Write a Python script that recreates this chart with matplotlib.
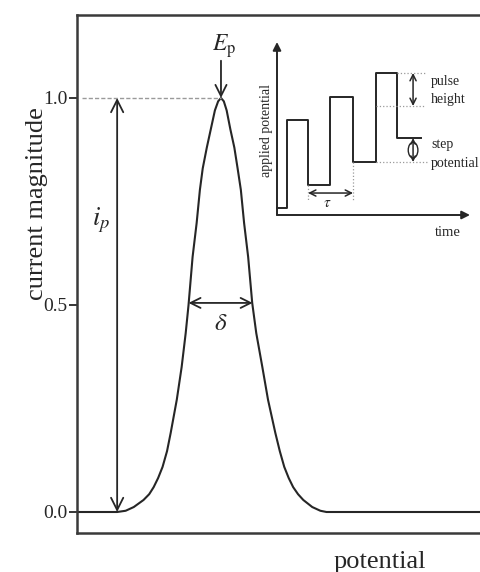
import matplotlib
matplotlib.use('Agg')
import matplotlib.pyplot as plt
from matplotlib.patches import Ellipse

plt.rcParams['font.family'] = ['Liberation Serif', 'DejaVu Serif']
plt.rcParams['mathtext.fontset'] = 'stix'

# main peak (potential in arbitrary units)
potential = [0.0, 9.9, 12.0, 14.0, 16.4, 17.8, 18.9, 20.0, 21.1, 22.2, 23.1,
             24.6, 25.8, 26.8, 27.5, 28.5, 29.5, 30.3, 31.0, 32.0, 33.0, 34.0,
             34.8, 35.5, 36.2, 36.9, 37.8, 38.8, 39.6, 40.4, 41.2, 42.2, 43.2,
             44.2, 45.7, 47.1, 48.9, 50.0, 51.1, 52.2, 53.3, 54.5, 55.8, 58.0,
             60.0, 61.5, 100.0]
current = [0.0, 0.0, 0.003, 0.012, 0.029, 0.043, 0.060, 0.082, 0.109, 0.147, 0.191,
           0.271, 0.350, 0.432, 0.500, 0.616, 0.698, 0.778, 0.830, 0.880, 0.925, 0.970,
           0.992, 1.0, 0.992, 0.970, 0.925, 0.880, 0.830, 0.778, 0.698, 0.616, 0.505,
           0.432, 0.350, 0.271, 0.191, 0.147, 0.109, 0.082, 0.060, 0.043, 0.029, 0.012,
           0.003, 0.0, 0.0]
y_ticks = [0.0, 0.5, 1.0]
y_ticklabels = ['0.0', '0.5', '1.0']

# inset waveform (time / applied potential, arbitrary units)
wave_t = [0, 5.2, 16.1, 27.5, 39.4, 51.3, 62.2, 74.6]
wave_v = [4.0, 54.9, 17.3, 68.2, 30.6, 82.1, 44.5, 44.5]

ink = '#262626'
dot = '#9a9a9a'

fig = plt.figure(figsize=(4.8, 5.72), dpi=100)
ax = fig.add_axes([0.1604, 0.0682, 0.845, 0.9056])

ax.plot(potential, current, color=ink, lw=1.5, solid_joinstyle='round')
ax.set_xlim(0, 100)
ax.set_ylim(-0.0507, 1.2005)
ax.set_xticks([])
ax.set_yticks(y_ticks)
ax.set_yticklabels(y_ticklabels)
ax.tick_params(axis='y', direction='out', length=6, width=1.3, color=ink,
               labelsize=14, pad=1, labelcolor=ink)
for s in ['left', 'top', 'bottom']:
    ax.spines[s].set_linewidth(1.8)
    ax.spines[s].set_color('#3a3a3a')
ax.spines['right'].set_visible(False)

# peak height line and arrows
ax.plot([1.2, 35.5], [1.0, 1.0], color=dot, lw=1.0, ls=(0, (3, 1.5)))
arr = dict(arrowstyle='<->', color=ink, lw=1.3, mutation_scale=22,
           shrinkA=0, shrinkB=0)
ax.annotate('', xy=(9.9, 1.0), xytext=(9.9, 0.0), arrowprops=arr)
ax.text(6.0, 0.705, '$i_p$', fontsize=19, ha='center', va='center', color=ink)

ax.annotate('', xy=(35.5, 1.0), xytext=(35.5, 1.09),
            arrowprops=dict(arrowstyle='->', color=ink, lw=1.3, mutation_scale=20,
                            shrinkA=0, shrinkB=0))
ax.text(36.3, 1.125, r'$E_\mathrm{p}$', fontsize=17, ha='center', va='center', color=ink)

ax.annotate('', xy=(27.5, 0.505), xytext=(43.3, 0.505),
            arrowprops=dict(arr, mutation_scale=18))
ax.text(35.5, 0.455, r'$\delta$', fontsize=18, ha='center', va='center', color=ink)

fig.text(380 / 480, 10 / 572, 'potential', fontsize=19, ha='center', va='center', color=ink)
fig.text(37 / 480, 368 / 572, 'current magnitude', fontsize=19, rotation=90,
         ha='center', va='center', color=ink)

# inset: the pulse waveform
ins = fig.add_axes([277 / 480, 357 / 572, 193 / 480, 173 / 572])
ins.set_xlim(0, 100)
ins.set_ylim(0, 100)
ins.axis('off')
ins.patch.set_alpha(0)

head = dict(arrowstyle='-|>', color=ink, lw=1.4, mutation_scale=12,
            shrinkA=0, shrinkB=0)
ins.annotate('', xy=(0, 100), xytext=(0, 0), arrowprops=head, annotation_clip=False)
ins.annotate('', xy=(100, 0), xytext=(0, 0), arrowprops=head, annotation_clip=False)
ins.plot(wave_t, wave_v, drawstyle='steps-post', color=ink, lw=1.4, clip_on=False)

# guide lines
ins.plot([62.2, 76.7], [82.1, 82.1], color=dot, lw=0.9, ls=':', clip_on=False)
ins.plot([51.3, 76.7], [63.0, 63.0], color=dot, lw=0.9, ls=':', clip_on=False)
ins.plot([51.3, 79.0], [30.6, 30.6], color=dot, lw=0.9, ls=':', clip_on=False)
ins.plot([16.1, 16.1], [17.3, 8.5], color=dot, lw=0.9, ls=':', clip_on=False)
ins.plot([39.4, 39.4], [30.6, 8.5], color=dot, lw=0.9, ls=':', clip_on=False)

small = dict(arrowstyle='<->', color=ink, lw=1.1, mutation_scale=11,
             shrinkA=0, shrinkB=0)
ins.annotate('', xy=(16.1, 12.7), xytext=(39.4, 12.7), arrowprops=small)
ins.text(25.9, 6.5, r'$\tau$', fontsize=11, ha='center', va='center', color=ink)
ins.annotate('', xy=(70.5, 82.1), xytext=(70.5, 63.0), arrowprops=small)
ins.annotate('', xy=(70.5, 44.5), xytext=(70.5, 30.6),
             arrowprops=dict(small, mutation_scale=8))
ins.add_patch(Ellipse((70.5, 37.5), 5.0, 9.0, fill=False, ec=ink, lw=1.0))

txt = dict(fontsize=10, ha='left', va='center', color=ink, clip_on=False)
ins.text(79.8, 77.0, 'pulse', **txt)
ins.text(79.8, 67.0, 'height', **txt)
ins.text(79.8, 40.5, 'step', **txt)
ins.text(79.8, 30.0, 'potential', **txt)
ins.text(88.6, -10.0, 'time', fontsize=10.5, ha='center', va='center', color=ink)
ins.text(-5.4, 49.0, 'applied potential', fontsize=10, rotation=90,
         ha='center', va='center', color=ink)

fig.savefig('out.png', dpi=100)
